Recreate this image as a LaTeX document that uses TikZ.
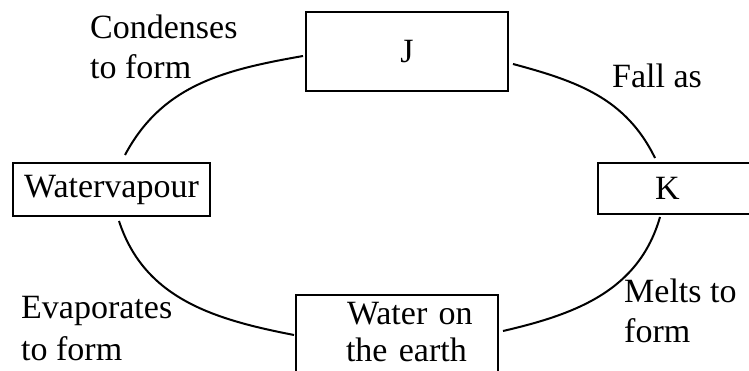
\documentclass[tikz,border=0pt]{standalone}
\usepackage{fontspec}
\setmainfont{Liberation Serif}
\usetikzlibrary{positioning}

\begin{document}
\begin{tikzpicture}[x=1pt,y=1pt,
  box/.style={draw,line width=2.4pt,inner sep=0pt,outer sep=0pt,font=\rmfamily\fontsize{34}{40}\selectfont},
  lbl/.style={align=left,anchor=base west,inner sep=0pt,font=\rmfamily\fontsize{34}{40}\selectfont},
  arc/.style={line width=2pt}]
\useasboundingbox (0,0) rectangle (749,370);
\clip (0,0) rectangle (749,370);
\node[box,minimum width=202,minimum height=79] (J) at (407,318.5) {J};
\node[box,minimum width=197,minimum height=53] (vapour) at (111.5,180.5) {Watervapour};
\node[box,anchor=west,minimum height=51,align=left,text width=100,inner xsep=57] (K) at (598,181.5) {K};
\node[box,anchor=north west,align=left,text width=202,inner xsep=0,inner ysep=7.5,text depth=60] (earth) at (296,75)
  {\hspace*{51pt}Water on\\[-3pt]\hspace*{50pt}the earth};
\node[lbl] (condense) at (90,291) {Condenses\\to form};
\node[lbl] (fall) at (612,282) {Fall as};
\node[lbl] (evap) at (21,10) {Evaporates\\[2pt]to form};
\node[lbl] (melt) at (624,28) {Melts to\\form};
\draw[arc] ([shift={(-3,-4.5)}]J.west) to[out=190,in=62] ([shift={(13.5,8)}]vapour.north);
\draw[arc] ([shift={(5,-12.5)}]J.east) to[out=-15,in=116] ([shift={(57,5)}]K.north west);
\draw[arc] ([shift={(7.5,-5)}]vapour.south) to[out=-72,in=169] ([shift={(-2,-40)}]earth.north west);
\draw[arc] ([shift={(5,-36)}]earth.north east) to[out=13,in=254] ([shift={(62,-3)}]K.south west);
\end{tikzpicture}
\end{document}
